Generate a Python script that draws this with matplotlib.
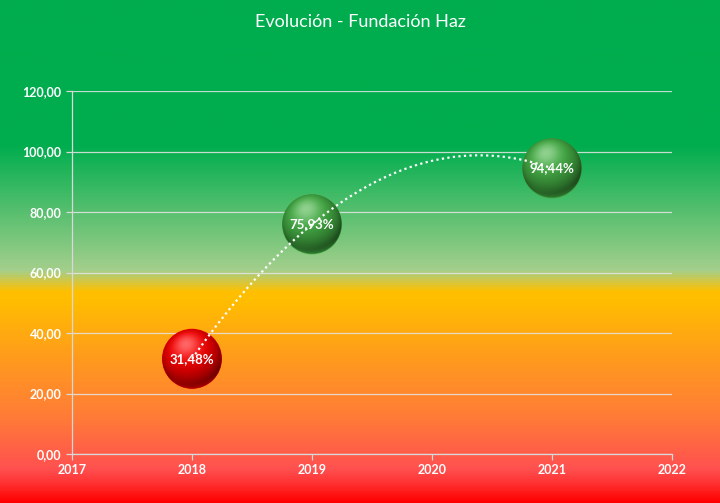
import numpy as np
import matplotlib
matplotlib.use("Agg")
import matplotlib.pyplot as plt
from matplotlib.colors import LinearSegmentedColormap, to_rgb
from matplotlib.ticker import FuncFormatter
from matplotlib.offsetbox import OffsetImage, AnnotationBbox

# ---- data ----
years = [2018, 2019, 2021]
values = [31.48, 75.93, 94.44]
labels = ["31,48%", "75,93%", "94,44%"]
bubble_colors = ["#E60000", "#3E9E3E", "#3E9E3E"]
title = "Evolución - Fundación Haz"
x_ticks = [2017, 2018, 2019, 2020, 2021, 2022]
y_ticks = [0, 20, 40, 60, 80, 100, 120]

plt.rcParams['font.family'] = ['Lato', 'DejaVu Sans']

W, H = 720, 503
fig = plt.figure(figsize=(W / 100, H / 100), dpi=100)

# background gradient
bg = fig.add_axes([0, 0, 1, 1], zorder=0)
stops = [
    (0.0, "#00AD4E"), (0.288, "#00AD4E"), (0.537, "#A3CF8C"), (0.58, "#FFC000"),
    (0.596, "#FFBE00"), (0.716, "#FF9A1E"), (0.835, "#FF7A38"), (0.934, "#FF5050"),
    (0.964, "#FF3030"), (1.0, "#FF0000"),
]
cmap = LinearSegmentedColormap.from_list("bg", stops)
grad = np.linspace(0, 1, 512).reshape(-1, 1)
bg.imshow(grad, aspect="auto", cmap=cmap, extent=[0, 1, 0, 1], origin="upper")
bg.set_axis_off()

ax = fig.add_axes([72 / W, 1 - 454 / H, 600 / W, 363 / H], zorder=1)
ax.patch.set_alpha(0)
ax.set_xlim(2017, 2022)
ax.set_ylim(0, 120)
ax.set_xticks(x_ticks)
ax.set_yticks(y_ticks)
ax.xaxis.set_major_formatter(FuncFormatter(lambda v, p: f"{int(round(v))}"))
ax.yaxis.set_major_formatter(FuncFormatter(lambda v, p: f"{v:.2f}".replace('.', ',')))
ax.grid(axis="y", color="#E6E6E6", linewidth=0.9, alpha=0.85)
ax.set_axisbelow(True)
for s in ["top", "right"]:
    ax.spines[s].set_visible(False)
for s in ["left", "bottom"]:
    ax.spines[s].set_color("#D9D9D9")
    ax.spines[s].set_linewidth(0.9)
ax.tick_params(axis="both", colors="#D9D9D9", labelcolor="white", labelsize=9, length=4, width=0.9)
for t in ax.get_xticklabels() + ax.get_yticklabels():
    t.set_fontweight("bold")

fig.text(0.5, 1 - 22 / H, title, ha="center", va="center", color="white", fontsize=13)

# trendline (polynomial order 2)
coef = np.polyfit(years, values, 2)
xt = np.linspace(years[0], years[-1], 200)
ax.plot(xt, np.polyval(coef, xt), color="white", linestyle=(0, (1, 1.5)), linewidth=1.6, zorder=4)

# base scatter marks
ax.scatter(years, values, s=(60 * 0.72) ** 2, c=bubble_colors, zorder=3, linewidths=0)


def sphere(base, n=120):
    base = np.array(to_rgb(base))
    u = np.linspace(-1, 1, n)
    X, Y = np.meshgrid(u, -u)
    r2 = X ** 2 + Y ** 2
    r = np.sqrt(r2)
    Z = np.sqrt(np.clip(1 - r2, 0, 1))
    L = np.array([-0.2, 0.5, 0.85])
    L = L / np.linalg.norm(L)
    d = np.clip(X * L[0] + Y * L[1] + Z * L[2], 0, 1)
    dark = base * 0.5
    bright = np.clip(base * 1.12, 0, 1)
    col = dark[None, None, :] + (bright - dark)[None, None, :] * d[..., None] ** 0.9
    spec = d ** 10
    col = col + (1 - col) * spec[..., None] * 0.4
    # bottom rim reflection
    rim = np.clip((-Y - 0.5) / 0.5, 0, 1) * np.clip((r - 0.72) / 0.28, 0, 1)
    col = col + (bright - col).clip(0) * rim[..., None] * 0.45
    col = np.clip(col, 0, 1)
    alpha = np.clip((1 - r) * n / 2, 0, 1)
    return np.dstack([col, alpha])


for x, y, c, lab in zip(years, values, bubble_colors, labels):
    img = sphere(c)
    oi = OffsetImage(img, zoom=60 / 120 * 72 / 100)
    ab = AnnotationBbox(oi, (x, y), xycoords="data", frameon=False, zorder=3.5, pad=0)
    ax.add_artist(ab)
    ax.annotate(lab, (x, y), ha="center", va="center", color="white",
                fontsize=9.5, fontweight="bold", zorder=6)

fig.savefig("out.png", dpi=100)
